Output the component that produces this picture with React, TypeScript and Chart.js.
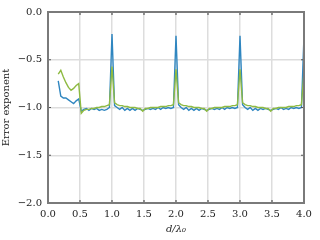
import React, { useEffect, useRef } from "react";
import { Chart, registerables } from "chart.js";

Chart.register(...registerables);

const xValues: number[] = [
  0.16, 0.2, 0.24, 0.28, 0.32, 0.36, 0.4, 0.44, 0.48, 0.52, 0.56, 0.6, 0.64, 0.68, 0.72, 0.76, 0.8, 0.84, 0.88, 0.92, 0.96, 1.0,
  1.04, 1.08, 1.12, 1.16, 1.2, 1.24, 1.28, 1.32, 1.36, 1.4, 1.44, 1.48, 1.52, 1.56, 1.6, 1.64, 1.68, 1.72, 1.76, 1.8, 1.84, 1.88, 1.92, 1.96, 2.0,
  2.04, 2.08, 2.12, 2.16, 2.2, 2.24, 2.28, 2.32, 2.36, 2.4, 2.44, 2.48, 2.52, 2.56, 2.6, 2.64, 2.68, 2.72, 2.76, 2.8, 2.84, 2.88, 2.92, 2.96, 3.0,
  3.04, 3.08, 3.12, 3.16, 3.2, 3.24, 3.28, 3.32, 3.36, 3.4, 3.44, 3.48, 3.52, 3.56, 3.6, 3.64, 3.68, 3.72, 3.76, 3.8, 3.84, 3.88, 3.92, 3.96, 4.0,
];

const blueSeries: number[] = [
  -0.72, -0.88, -0.9, -0.9, -0.92, -0.94, -0.96, -0.93, -0.91, -1.04, -1.02, -1.01, -1.03, -1.01, -1.02, -1.01, -1.03, -1.02, -1.03, -1.02, -1.0, -0.23,
  -0.98, -1.0, -1.02, -1.0, -1.03, -1.01, -1.03, -1.01, -1.03, -1.01, -1.02, -1.03, -1.02, -1.01, -1.02, -1.01, -1.02, -1.0, -1.02, -1.0, -1.01, -1.0, -1.01, -1.0, -0.25,
  -0.97, -1.0, -1.02, -1.0, -1.03, -1.01, -1.03, -1.01, -1.03, -1.01, -1.02, -1.03, -1.02, -1.01, -1.02, -1.01, -1.02, -1.0, -1.02, -1.0, -1.01, -1.0, -1.01, -1.0, -0.25,
  -0.97, -1.0, -1.02, -1.0, -1.03, -1.01, -1.03, -1.01, -1.02, -1.01, -1.02, -1.03, -1.02, -1.01, -1.02, -1.0, -1.02, -1.01, -1.02, -1.0, -1.01, -1.0, -1.01, -1.0, -0.25,
];

const greenSeries: number[] = [
  -0.65, -0.61, -0.68, -0.74, -0.79, -0.82, -0.8, -0.77, -0.75, -1.06, -1.03, -1.02, -1.02, -1.01, -1.01, -1.0, -1.0, -0.99, -0.99, -0.98, -0.97, -0.57,
  -0.95, -0.97, -0.98, -0.98, -0.99, -0.99, -1.0, -1.0, -1.0, -1.01, -1.01, -1.04, -1.01, -1.01, -1.0, -1.0, -1.0, -1.0, -0.99, -0.99, -0.99, -0.98, -0.98, -0.97, -0.6,
  -0.95, -0.97, -0.98, -0.98, -0.99, -0.99, -1.0, -1.0, -1.0, -1.01, -1.01, -1.04, -1.01, -1.01, -1.0, -1.0, -1.0, -1.0, -0.99, -0.99, -0.99, -0.98, -0.98, -0.97, -0.6,
  -0.95, -0.97, -0.98, -0.98, -0.99, -0.99, -1.0, -1.0, -1.0, -1.01, -1.01, -1.04, -1.01, -1.01, -1.0, -1.0, -1.0, -1.0, -0.99, -0.99, -0.99, -0.98, -0.98, -0.97, -0.62,
];

const X_MIN = 0;
const X_MAX = 4;
const Y_MIN = -2;
const Y_MAX = 0;
const TICK_STEP = 0.5;
const X_TITLE = "d/λ₀";
const Y_TITLE = "Error exponent";

const FONT = "'DejaVu Serif', serif";
const TEXT = "#222222";

const fmt = (v: number | string) => {
  const n = Number(v);
  const s = n.toFixed(1);
  return s.startsWith("-") ? "−" + s.slice(1) : s;
};

const boxPlugin = {
  id: "boxPlugin",
  afterDatasetsDraw(chart: any) {
    const { ctx, chartArea, scales } = chart;
    const { left, right, top, bottom } = chartArea;
    ctx.save();
    ctx.strokeStyle = "#555555";
    ctx.lineWidth = 1.2;
    const len = 3;
    ctx.beginPath();
    for (const t of scales.x.ticks) {
      const px = scales.x.getPixelForValue(t.value);
      ctx.moveTo(px, bottom);
      ctx.lineTo(px, bottom - len);
      ctx.moveTo(px, top);
      ctx.lineTo(px, top + len);
    }
    for (const t of scales.y.ticks) {
      const py = scales.y.getPixelForValue(t.value);
      ctx.moveTo(left, py);
      ctx.lineTo(left + len, py);
      ctx.moveTo(right, py);
      ctx.lineTo(right - len, py);
    }
    ctx.stroke();
    ctx.strokeStyle = "#7a7a7a";
    ctx.lineWidth = 2;
    ctx.strokeRect(left, top, right - left, bottom - top);
    ctx.restore();
  },
};

export default function App() {
  const ref = useRef<HTMLCanvasElement | null>(null);

  useEffect(() => {
    document.body.style.margin = "0";
    const canvas = ref.current;
    if (!canvas) return;
    const chart = new Chart(canvas, {
      type: "line",
      data: {
        datasets: [
          {
            label: "A",
            data: xValues.map((x, i) => ({ x, y: blueSeries[i] })),
            borderColor: "#2f86c0",
            borderWidth: 1.4,
            pointRadius: 0,
            tension: 0,
            order: 2,
          },
          {
            label: "B",
            data: xValues.map((x, i) => ({ x, y: greenSeries[i] })),
            borderColor: "#8EBA42",
            borderWidth: 1.4,
            pointRadius: 0,
            tension: 0,
            order: 1,
          },
        ],
      },
      options: {
        animation: false,
        responsive: false,
        maintainAspectRatio: false,
        layout: { padding: { left: 0, top: 12, right: 16, bottom: 0 } },
        plugins: { legend: { display: false }, tooltip: { enabled: false } },
        scales: {
          x: {
            type: "linear",
            min: X_MIN,
            max: X_MAX,
            ticks: {
              stepSize: TICK_STEP,
              callback: (v: any) => fmt(v),
              font: { family: FONT, size: 10 },
              color: TEXT,
              padding: 5,
              maxRotation: 0,
            },
            grid: { color: "#dddddd", lineWidth: 1.5, drawTicks: false },
            border: { display: false },
            title: {
              display: true,
              text: X_TITLE,
              font: { family: FONT, size: 10, style: "italic" },
              color: TEXT,
              padding: { top: 3, bottom: 5 },
            },
            afterFit: (s: any) => {
              s.height = 37;
            },
          },
          y: {
            type: "linear",
            min: Y_MIN,
            max: Y_MAX,
            ticks: {
              stepSize: TICK_STEP,
              callback: (v: any) => fmt(v),
              font: { family: FONT, size: 10 },
              color: TEXT,
              padding: 6,
            },
            grid: { color: "#dddddd", lineWidth: 1.5, drawTicks: false },
            border: { display: false },
            title: {
              display: true,
              text: Y_TITLE,
              font: { family: FONT, size: 10 },
              color: TEXT,
              padding: { top: 0, bottom: 2 },
            },
            afterFit: (s: any) => {
              s.width = 48;
            },
          },
        },
      },
      plugins: [boxPlugin],
    });
    return () => chart.destroy();
  }, []);

  return (
    <div style={{ width: 320, height: 240, background: "#fff" }}>
      <canvas ref={ref} width={320} height={240} style={{ display: "block" }} />
    </div>
  );
}
